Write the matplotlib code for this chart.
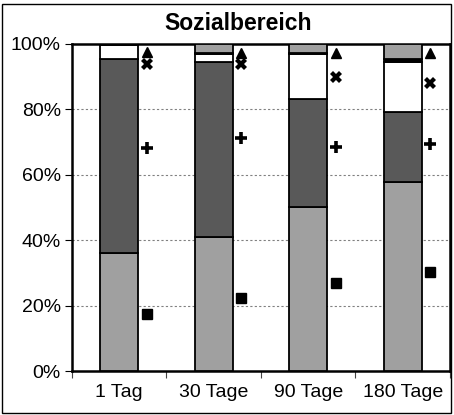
import matplotlib
matplotlib.use("Agg")
import matplotlib.pyplot as plt
from matplotlib.patches import Rectangle
from matplotlib.ticker import FuncFormatter

categories = ['1 Tag', '30 Tage', '90 Tage', '180 Tage']
seg_light = [36.2, 40.9, 50.2, 57.9]
seg_dark = [59.1, 53.7, 33.0, 21.4]
seg_white = [4.3, 2.3, 13.7, 15.3]
seg_black = [0.4, 0.3, 0.3, 0.7]
seg_top = [100 - a - b - c - d for a, b, c, d in zip(seg_light, seg_dark, seg_white, seg_black)]

mark_square = [17.3, 22.4, 27.0, 30.2]
mark_plus = [68.1, 71.2, 68.6, 69.3]
mark_x = [93.8, 93.8, 89.8, 88.0]
mark_tri = [97.6, 97.3, 97.3, 97.3]

plt.rcParams['font.family'] = ['Liberation Sans', 'DejaVu Sans']

fig = plt.figure(figsize=(4.54, 4.15), dpi=100)
ax = fig.add_axes([0.1586, 0.106, 0.8325, 0.788])

x = list(range(len(categories)))
segs = [seg_light, seg_dark, seg_white, seg_black, seg_top]
colors = ['#a0a0a0', '#595959', '#ffffff', '#000000', '#a0a0a0']
bottom = [0.0] * 4
for s, c in zip(segs, colors):
    ax.bar(x, s, width=0.4, bottom=bottom, color=c, edgecolor='black', linewidth=1.3, zorder=3)
    bottom = [b + v for b, v in zip(bottom, s)]

xm = [i + 0.29 for i in x]
ax.plot(xm, mark_square, 's', color='black', ms=7, ls='none', zorder=4)
ax.plot(xm, mark_plus, '+', color='black', ms=8, mew=2.6, ls='none', zorder=4)
ax.plot(xm, mark_x, 'X', color='black', ms=8, mew=0, ls='none', zorder=4)
ax.plot(xm, mark_tri, '^', color='black', ms=7, ls='none', zorder=4)

ax.set_xlim(-0.5, 3.5)
ax.set_ylim(0, 100)
ax.set_yticks([0, 20, 40, 60, 80, 100])
ax.yaxis.set_major_formatter(FuncFormatter(lambda v, p: f"{int(v)}%"))
for yv in [20, 40, 60, 80]:
    ax.axhline(yv, color='#808080', lw=0.8, ls=(0, (2, 2)), zorder=1)

ax.set_xticks(x)
ax.set_xticklabels(categories)
ax.set_xticks([-0.5, 0.5, 1.5, 2.5, 3.5], minor=True)
ax.tick_params(axis='x', which='major', length=0, labelsize=14, pad=9)
ax.tick_params(axis='x', which='minor', length=5, width=0.8, direction='out', color='#444444')
ax.tick_params(axis='y', length=5, width=0.8, direction='out', labelsize=14, pad=3)

for sp in ax.spines.values():
    sp.set_linewidth(1.8)
    sp.set_color('black')

fig.text(0.524, 0.943, 'Sozialbereich', ha='center', va='center', fontsize=16.5, fontweight='bold')

fig.patches.append(Rectangle((0.004, 0.005), 0.99, 0.985, transform=fig.transFigure,
                             fill=False, edgecolor='black', linewidth=1.0))

fig.savefig('out.png', dpi=100)
